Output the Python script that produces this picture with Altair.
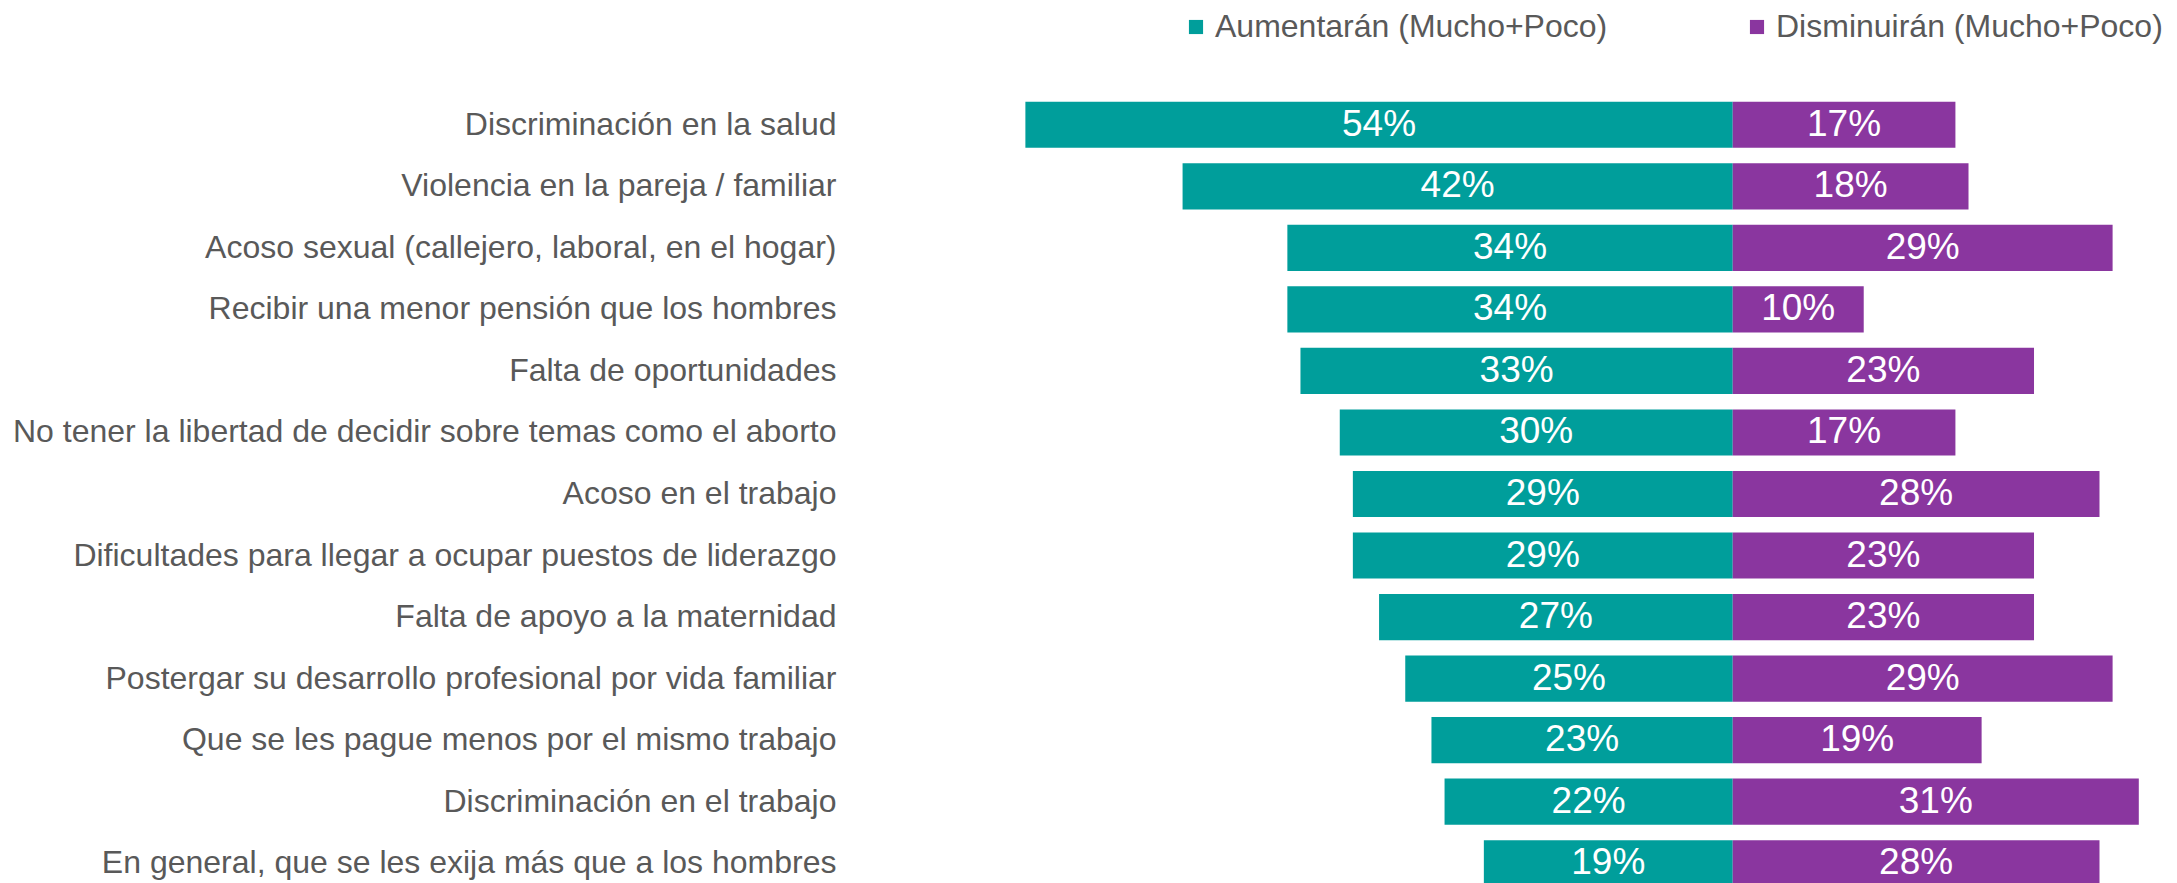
import altair as alt
import pandas as pd

categories = [
    "Discriminación en la salud",
    "Violencia en la pareja / familiar",
    "Acoso sexual (callejero, laboral, en el hogar)",
    "Recibir una menor pensión que los hombres",
    "Falta de oportunidades",
    "No tener la libertad de decidir sobre temas como el aborto",
    "Acoso en el trabajo",
    "Dificultades para llegar a ocupar puestos de liderazgo",
    "Falta de apoyo a la maternidad",
    "Postergar su desarrollo profesional por vida familiar",
    "Que se les pague menos por el mismo trabajo ",
    "Discriminación en el trabajo",
    "En general, que se les exija más que a los hombres",
]
aumentaran = [54, 42, 34, 34, 33, 30, 29, 29, 27, 25, 23, 22, 19]
disminuiran = [17, 18, 29, 10, 23, 17, 28, 23, 23, 29, 19, 31, 28]
series = ["Aumentarán (Mucho+Poco)", "Disminuirán (Mucho+Poco)"]
colors = ["#009E9B", "#8A369F"]

rows = []
for c, a, d in zip(categories, aumentaran, disminuiran):
    rows.append({"cat": c, "serie": series[0], "start": 0, "end": -a / 100,
                 "mid": -a / 200, "label": f"{a}%"})
    rows.append({"cat": c, "serie": series[1], "start": 0, "end": d / 100,
                 "mid": d / 200, "label": f"{d}%"})
df = pd.DataFrame(rows)

FONT = "Arial, Liberation Sans"

xscale = alt.Scale(domain=[-0.68, 0.33], nice=False, zero=False)
yscale = alt.Scale(domain=categories, paddingInner=0.25, paddingOuter=0.125, range=[0, 800])

base = alt.Chart(df)

bars = base.mark_bar(clip=True).encode(
    y=alt.Y("cat:N", sort=categories, scale=yscale, title=None,
            axis=alt.Axis(domain=False, ticks=False, labelFontSize=32,
                          labelColor="#595959", labelFont=FONT,
                          labelPadding=6, labelLimit=1200)),
    x=alt.X("start:Q", scale=xscale, axis=None),
    x2="end:Q",
    color=alt.Color("serie:N", scale=alt.Scale(domain=series, range=colors),
                    legend=alt.Legend(title=None, orient="none", legendX=338, legendY=-83,
                                      direction="horizontal", columns=2, columnPadding=133,
                                      symbolType="square", symbolSize=200, symbolStrokeWidth=0,
                                      labelFontSize=32, labelColor="#595959",
                                      labelFont=FONT, labelLimit=1000,
                                      labelOffset=3)),
)

texts = base.mark_text(clip=True, color="white", fontSize=37, font=FONT,
                       baseline="middle", align="center").encode(
    y=alt.Y("cat:N", sort=categories, scale=yscale),
    x=alt.X("mid:Q", scale=xscale),
    text="label:N",
)

chart = (bars + texts).properties(
    width=1323, height=789,
    autosize=alt.AutoSizeParams(type="none"),
    padding={"left": 834, "top": 86, "right": 4, "bottom": 0},
).configure_view(stroke=None)

chart.save("out.html", embed_options={"renderer": "svg", "actions": False})
